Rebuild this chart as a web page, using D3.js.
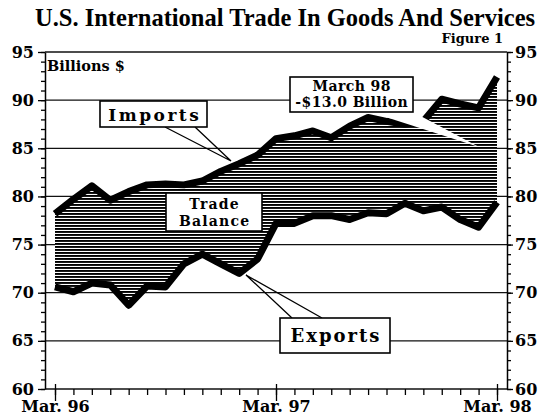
<!DOCTYPE html>
<meta charset="utf-8">

<!-- Load d3.js -->
<script src="https://d3js.org/d3.v7.min.js"></script>

<style>
  body { margin: 0; background: #fff; }
</style>

<div id="my_dataviz"></div>

<script>

// monthly points, Mar 96 .. Mar 98
var months = ["Mar 96","Apr 96","May 96","Jun 96","Jul 96","Aug 96","Sep 96","Oct 96","Nov 96","Dec 96","Jan 97","Feb 97",
              "Mar 97","Apr 97","May 97","Jun 97","Jul 97","Aug 97","Sep 97","Oct 97","Nov 97","Dec 97","Jan 98","Feb 98","Mar 98"];

// billions of dollars
var imports = [78.2, 79.7, 81.1, 79.6, 80.5, 81.2, 81.3, 81.2, 81.6, 82.6, 83.4, 84.3,
               86.0, 86.3, 86.8, 86.1, 87.3, 88.2, 87.8, 87.5, 87.8, 90.1, 89.6, 89.2, 92.4];
var exports = [70.6, 70.1, 71.0, 70.8, 68.7, 70.7, 70.6, 73.0, 74.0, 73.0, 72.0, 73.5,
               77.2, 77.2, 78.0, 78.0, 77.6, 78.3, 78.2, 79.3, 78.5, 78.9, 77.6, 76.8, 79.4];

// tick labels
var yTicks = [60, 65, 70, 75, 80, 85, 90, 95];
var xTickMonths = ["Mar 96", "Mar 97", "Mar 98"];
var xTickLabels = ["Mar. 96", "Mar. 97", "Mar. 98"];

var width = 543, height = 418;
var plot = {left: 45, right: 507, top: 52, bottom: 389};

var svg = d3.select("#my_dataviz")
  .append("svg")
    .attr("width", width)
    .attr("height", height);

var x = d3.scalePoint()
  .domain(months)
  .range([55, 497]);

var y = d3.scaleLinear()
  .domain([60, 95])
  .range([plot.bottom, plot.top]);

var labelFont = "'DejaVu Serif', serif";

// hatch used for the trade balance area
var defs = svg.append("defs");
var pat = defs.append("pattern")
    .attr("id", "hatch")
    .attr("patternUnits", "userSpaceOnUse")
    .attr("width", 4)
    .attr("height", 3);
pat.append("rect").attr("width", 4).attr("height", 3).attr("fill", "#fff");
pat.append("rect").attr("width", 4).attr("height", 1.9).attr("fill", "#000");

// title
svg.append("text")
    .attr("x", 35)
    .attr("y", 26)
    .attr("font-family", "'Liberation Serif', 'Times New Roman', serif")
    .attr("font-weight", "bold")
    .attr("font-size", 24.5)
    .text("U.S. International Trade In Goods And Services");

svg.append("text")
    .attr("x", 503)
    .attr("y", 43)
    .attr("text-anchor", "end")
    .attr("font-family", labelFont)
    .attr("font-weight", "bold")
    .attr("font-size", 13)
    .text("Figure 1");

// horizontal grid lines
svg.append("g")
  .selectAll("line")
  .data(yTicks)
  .enter()
  .append("line")
    .attr("x1", plot.left)
    .attr("x2", plot.right)
    .attr("y1", function(d) { return y(d); })
    .attr("y2", function(d) { return y(d); })
    .attr("stroke", "#111")
    .attr("stroke-width", 1.3);

// trade balance area
var pts = months.map(function(m, i) { return {m: m, imp: imports[i], exp: exports[i]}; });

svg.append("path")
    .datum(pts)
    .attr("fill", "url(#hatch)")
    .attr("d", d3.area()
      .x(function(d) { return x(d.m); })
      .y0(function(d) { return y(d.exp); })
      .y1(function(d) { return y(d.imp); }));

// imports and exports lines
[imports, exports].forEach(function(series) {
  svg.append("path")
      .datum(months)
      .attr("fill", "none")
      .attr("stroke", "#000")
      .attr("stroke-width", 7)
      .attr("stroke-linejoin", "round")
      .attr("d", d3.line()
        .x(function(d) { return x(d); })
        .y(function(d, i) { return y(series[i]); }));
});

// axes
svg.append("g")
    .attr("transform", "translate(" + plot.left + ",0)")
    .call(d3.axisLeft(y).tickValues(d3.range(60, 96)).tickSize(4).tickSizeOuter(0).tickFormat(""));
var yl = svg.append("g")
    .attr("transform", "translate(" + plot.left + ",0)")
    .call(d3.axisLeft(y).tickValues(yTicks).tickSize(7).tickPadding(4));
yl.select(".domain").remove();

svg.append("g")
    .attr("transform", "translate(" + plot.right + ",0)")
    .call(d3.axisRight(y).tickValues(d3.range(60, 96)).tickSize(4).tickSizeOuter(0).tickFormat(""));
var yr = svg.append("g")
    .attr("transform", "translate(" + plot.right + ",0)")
    .call(d3.axisRight(y).tickValues(yTicks).tickSize(6).tickPadding(2));
yr.select(".domain").remove();

var xb = svg.append("g")
    .attr("transform", "translate(0," + plot.bottom + ")")
    .call(d3.axisBottom(x).tickSize(6).tickFormat(""));
xb.select(".domain").remove();
var xm = svg.append("g")
    .attr("transform", "translate(0," + plot.bottom + ")")
    .call(d3.axisBottom(x).tickValues(xTickMonths).tickSize(12).tickPadding(0)
      .tickFormat(function(d, i) { return xTickLabels[i]; }));
xm.select(".domain").remove();
var xt = svg.append("g")
    .attr("transform", "translate(0," + plot.bottom + ")")
    .call(d3.axisTop(x).tickValues(xTickMonths).tickSize(5).tickFormat(""));
xt.select(".domain").remove();

svg.selectAll(".tick line").attr("stroke", "#000").attr("stroke-width", 1.3);
svg.selectAll(".domain").attr("stroke", "#000").attr("stroke-width", 1.5);
svg.selectAll(".tick text")
    .attr("font-family", labelFont)
    .attr("font-weight", "bold")
    .attr("font-size", 16)
    .attr("fill", "#000");

svg.append("text")
    .attr("x", 47)
    .attr("y", 71)
    .attr("font-family", labelFont)
    .attr("font-weight", "bold")
    .attr("font-size", 14.5)
    .text("Billions $");

// callouts
function pointer(p1, p2, tip, color) {
  svg.append("path")
      .attr("d", "M" + p1 + "L" + tip + "L" + p2)
      .attr("fill", "none")
      .attr("stroke", color)
      .attr("stroke-width", 1.3);
}

function box(x0, y0, w, h, lines, size, spacing, baselines) {
  svg.append("rect")
      .attr("x", x0).attr("y", y0)
      .attr("width", w).attr("height", h)
      .attr("fill", "#fff")
      .attr("stroke", "#000")
      .attr("stroke-width", 1.6);
  lines.forEach(function(t, i) {
    svg.append("text")
        .attr("x", x0 + w / 2 + spacing / 2)
        .attr("y", baselines[i])
        .attr("text-anchor", "middle")
        .attr("font-family", labelFont)
        .attr("font-weight", "bold")
        .attr("font-size", size)
        .attr("letter-spacing", spacing)
        .text(t);
  });
}

pointer([165, 127], [195, 127], [231, 161], "#000");
box(100, 101, 107, 26, ["Imports"], 17, 2.5, [121]);

pointer([292, 318], [322, 318], [246, 275], "#000");
box(280, 318, 110, 35, ["Exports"], 18, 2, [342]);

box(166, 193, 96, 38, ["Trade", "Balance"], 14, 1.2, [209, 226]);

svg.append("path")
    .attr("d", "M370,112L413,112L479,147Z")
    .attr("fill", "#fff");
box(290, 77, 123, 35, ["March 98", "-$13.0 Billion"], 14, 0.4, [91, 107]);

</script>
